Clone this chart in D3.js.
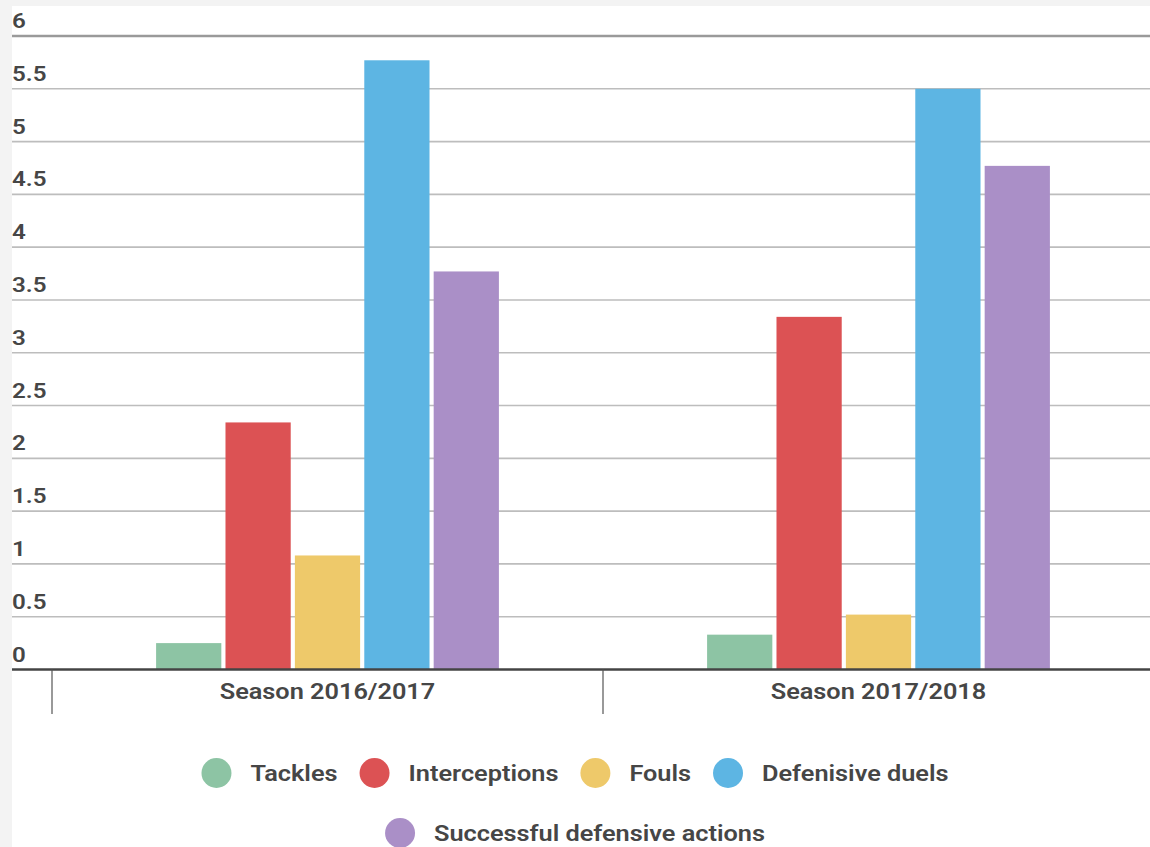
<!DOCTYPE html>
<html>
<head>
<meta charset="utf-8">
<script src="https://cdn.jsdelivr.net/npm/d3@7"></script>
<style>
  body { margin: 0; background: #f3f3f3; }
  text { font-family: Roboto, "Noto Sans", sans-serif; }
</style>
</head>
<body>
<div id="viz"></div>
<script>
const seasons = ['Season 2016/2017', 'Season 2017/2018'];
const metrics = ['Tackles', 'Interceptions', 'Fouls', 'Defenisive duels', 'Successful defensive actions'];
const colors = ['#8dc4a4', '#dc5254', '#eec96a', '#5db5e3', '#aa8fc7'];
const tackles = [0.25, 0.33];
const interceptions = [2.34, 3.34];
const fouls = [1.08, 0.52];
const duels = [5.77, 5.5];
const successful = [3.77, 4.77];
const yTicks = [0, 0.5, 1, 1.5, 2, 2.5, 3, 3.5, 4, 4.5, 5, 5.5, 6];

const series = [tackles, interceptions, fouls, duels, successful];
const width = 1150;
const height = 847;
const stretch = 1.15; // the source text is drawn wide

const svg = d3.select('#viz')
  .append('svg')
  .attr('width', width)
  .attr('height', height)
  .style('display', 'block');

// white panel
svg.append('rect')
  .attr('x', 12)
  .attr('y', 6)
  .attr('width', width - 12)
  .attr('height', height - 6)
  .attr('fill', '#fff');

const y = d3.scaleLinear().domain([0, 6]).range([669.5, 36]);
const x0 = d3.scaleBand().domain(seasons).range([52, 1154]);
const x1 = d3.scaleBand().domain(metrics).range([0, x0.bandwidth()])
  .paddingInner(0.06).paddingOuter(1.5);

const label = (sel, size) => sel
  .attr('fill', '#464646')
  .attr('font-size', size)
  .attr('font-weight', 600);

// gridlines + labels
const grid = svg.append('g');
grid.selectAll('line')
  .data(yTicks.filter(d => d > 0))
  .enter()
  .append('line')
  .attr('x1', 12)
  .attr('x2', width)
  .attr('y1', d => y(d))
  .attr('y2', d => y(d))
  .attr('stroke', d => d === 6 ? '#9a9a9a' : '#bdbdbd')
  .attr('stroke-width', d => d === 6 ? 2.5 : 1.6);

grid.selectAll('text')
  .data(yTicks)
  .enter()
  .append('text')
  .attr('transform', d => `translate(12,${y(d) - 8}) scale(${stretch},1)`)
  .call(label, 21)
  .text(d => d);

// bars
const groups = svg.selectAll('.season')
  .data(seasons)
  .enter()
  .append('g')
  .attr('transform', d => `translate(${x0(d)},0)`);

groups.selectAll('rect')
  .data((s, si) => metrics.map((m, mi) => ({ metric: m, value: series[mi][si], color: colors[mi] })))
  .enter()
  .append('rect')
  .attr('x', d => x1(d.metric))
  .attr('y', d => y(d.value))
  .attr('width', x1.bandwidth())
  .attr('height', d => y(0) - y(d.value))
  .attr('fill', d => d.color);

// baseline
svg.append('line')
  .attr('x1', 12)
  .attr('x2', width)
  .attr('y1', y(0))
  .attr('y2', y(0))
  .attr('stroke', '#444')
  .attr('stroke-width', 2.6);

// category ticks + labels
const xAxis = svg.append('g');
xAxis.selectAll('line')
  .data(seasons)
  .enter()
  .append('line')
  .attr('x1', d => x0(d))
  .attr('x2', d => x0(d))
  .attr('y1', y(0))
  .attr('y2', 714)
  .attr('stroke', '#555')
  .attr('stroke-width', 1.2);

xAxis.selectAll('text')
  .data(seasons)
  .enter()
  .append('text')
  .attr('transform', d => `translate(${x0(d) + x0.bandwidth() / 2},699) scale(${stretch},1)`)
  .attr('text-anchor', 'middle')
  .call(label, 22)
  .text(d => d);

// legend
const rows = [[0, 1, 2, 3], [4]];
const rowY = [773, 833];
const r = 15;
const textGap = 19;
const itemGap = 22;

rows.forEach((row, ri) => {
  const g = svg.append('g');
  let cursor = 0;
  row.forEach(mi => {
    const item = g.append('g').attr('transform', `translate(${cursor},0)`);
    item.append('circle')
      .attr('cx', r)
      .attr('cy', 0)
      .attr('r', r)
      .attr('fill', colors[mi]);
    const t = item.append('text')
      .attr('transform', `translate(${2 * r + textGap},8) scale(${stretch},1)`)
      .call(label, 22)
      .text(metrics[mi]);
    cursor += 2 * r + textGap + t.node().getComputedTextLength() * stretch + itemGap;
  });
  const total = cursor - itemGap;
  g.attr('transform', `translate(${width / 2 - total / 2},${rowY[ri]})`);
});
</script>
</body>
</html>
